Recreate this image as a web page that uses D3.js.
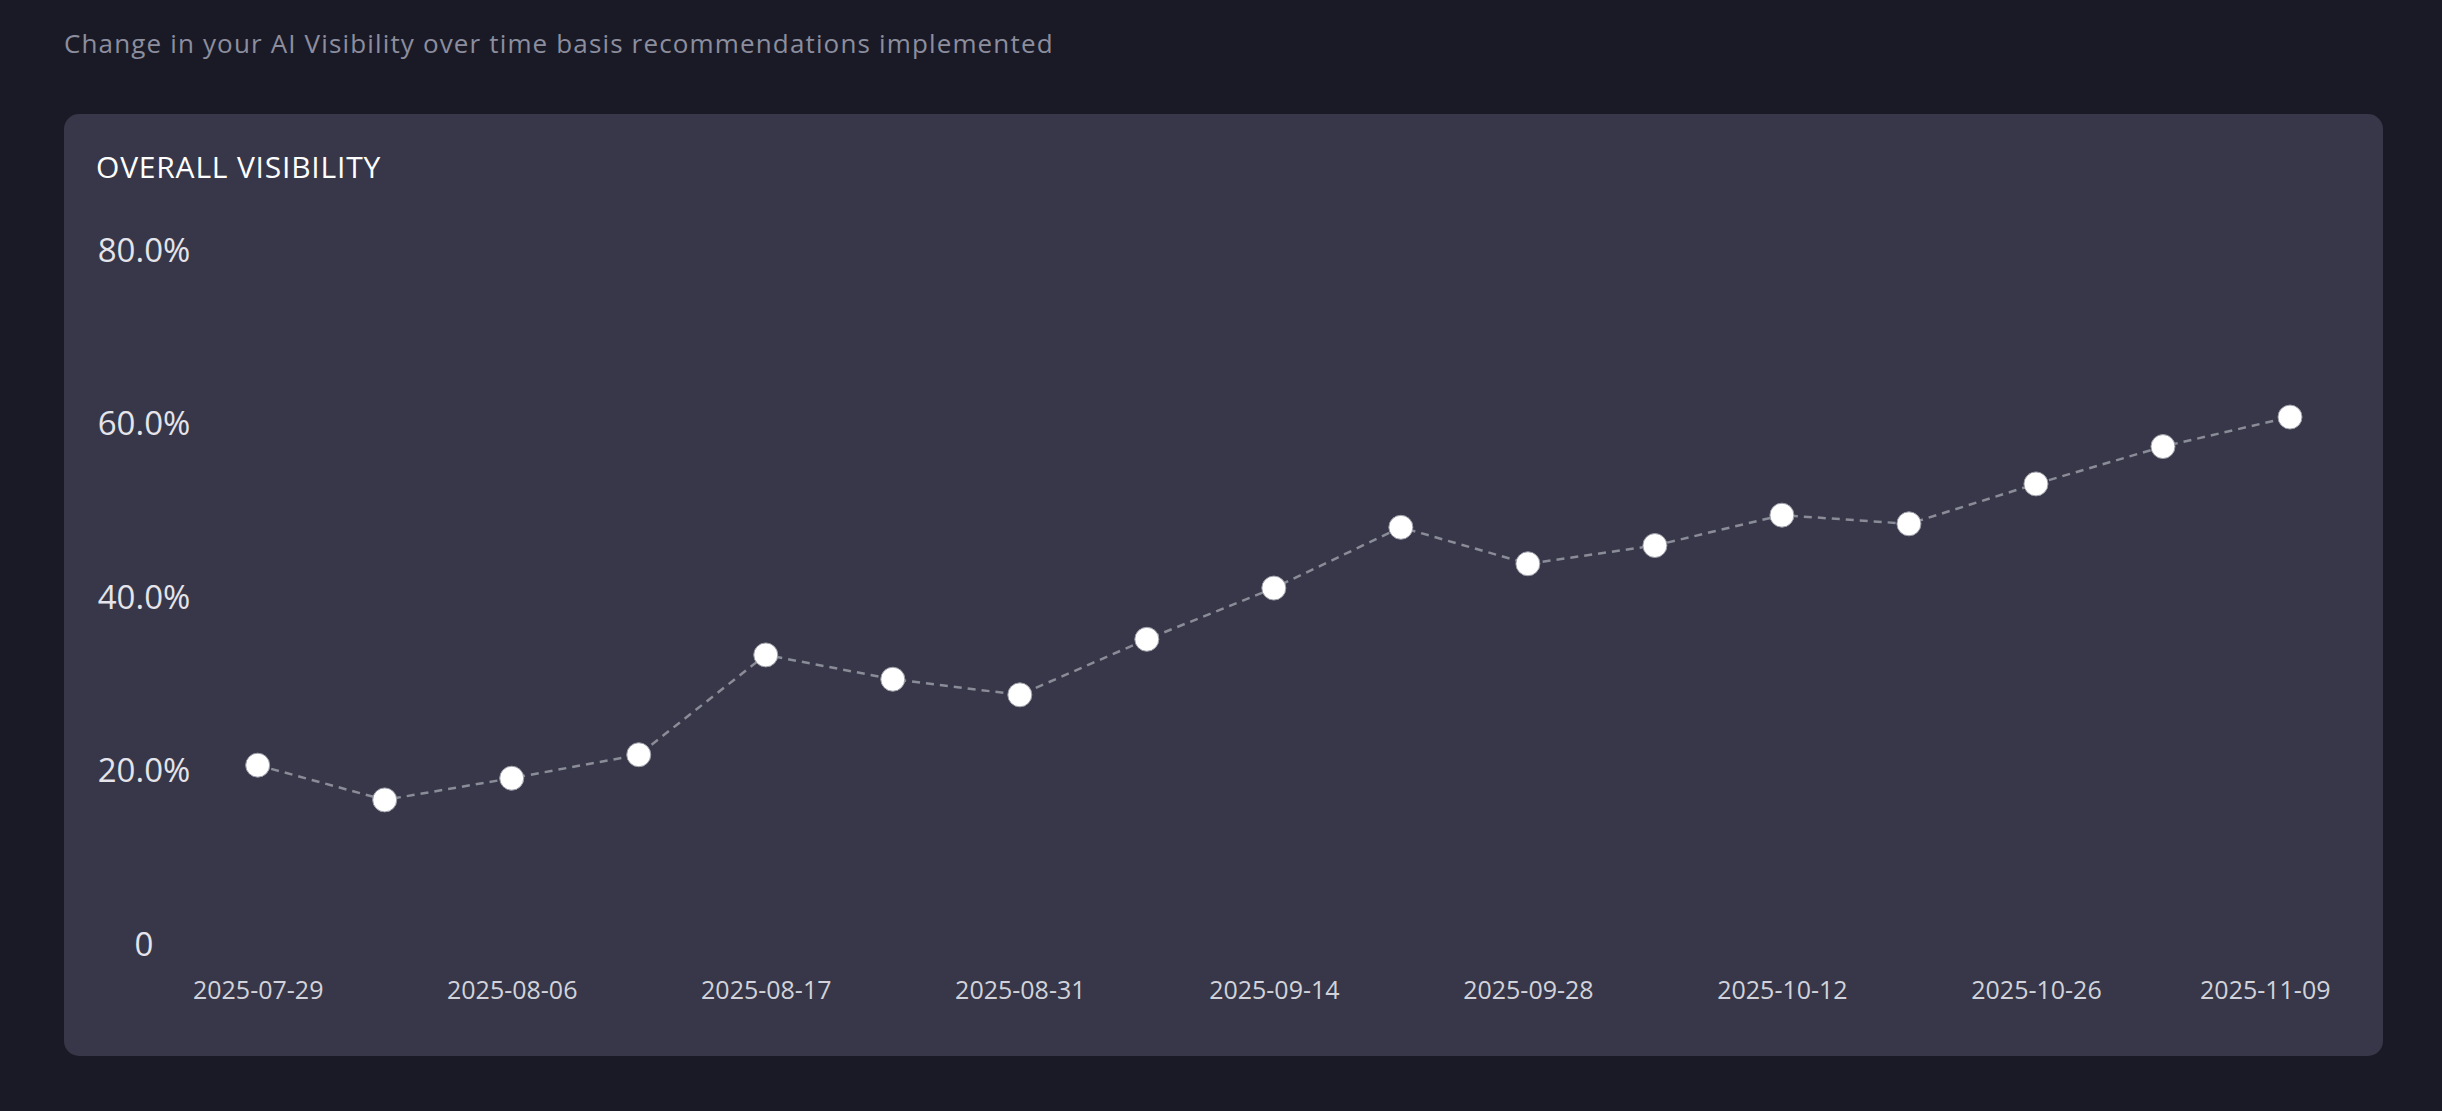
<!DOCTYPE html>
<html>
<head>
<meta charset="utf-8">
<script src="https://cdn.jsdelivr.net/npm/d3@7"></script>
<style>
  html, body { margin: 0; padding: 0; background: #1a1a27; }
  svg { display: block; }
  text { font-family: "Open Sans", "DejaVu Sans", sans-serif; }
</style>
</head>
<body>
<svg id="chart" width="2442" height="1111"></svg>
<script>
// ---- data ----
const subtitle = "Change in your AI Visibility over time basis recommendations implemented";
const chartTitle = "OVERALL VISIBILITY";
const dates = [
  "2025-07-29", "2025-08-02", "2025-08-06", "2025-08-11", "2025-08-17",
  "2025-08-24", "2025-08-31", "2025-09-07", "2025-09-14", "2025-09-21",
  "2025-09-28", "2025-10-05", "2025-10-12", "2025-10-19", "2025-10-26",
  "2025-11-02", "2025-11-09"
];
const visibility = [20.6, 16.6, 19.1, 21.8, 33.3, 30.5, 28.7, 35.1, 41.0, 48.0, 43.8, 45.9, 49.4, 48.4, 53.0, 57.3, 60.7];
const yTicks = [0, 20, 40, 60, 80];
const xTickLabels = ["2025-07-29", "2025-08-06", "2025-08-17", "2025-08-31", "2025-09-14", "2025-09-28", "2025-10-12", "2025-10-26", "2025-11-09"];

// ---- layout ----
const W = 2442, H = 1111;
const card = { x: 64, y: 114, w: 2319, h: 942, r: 15 };
const plot = { left: 257.7, right: 2290, top: 249.5, bottom: 944 };

const svg = d3.select("#chart");
svg.append("rect").attr("width", W).attr("height", H).attr("fill", "#1a1a27");

svg.append("text")
  .attr("x", 64).attr("y", 53)
  .attr("fill", "#8c8e9e")
  .attr("font-size", 26)
  .attr("letter-spacing", 1.15)
  .text(subtitle);

svg.append("rect")
  .attr("x", card.x).attr("y", card.y)
  .attr("width", card.w).attr("height", card.h)
  .attr("rx", card.r).attr("ry", card.r)
  .attr("fill", "#373749");

svg.append("text")
  .attr("x", 96).attr("y", 178)
  .attr("fill", "#ffffff")
  .attr("font-size", 30)
  .attr("font-weight", 500)
  .attr("letter-spacing", 0.8)
  .text(chartTitle);

const x = d3.scalePoint().domain(dates).range([plot.left, plot.right]);
const y = d3.scaleLinear().domain([0, 80]).range([plot.bottom, plot.top]);

// y axis
const yAxis = d3.axisLeft(y)
  .tickValues(yTicks)
  .tickSize(0)
  .tickFormat(d => d === 0 ? "0" : d3.format(".1f")(d) + "%");
const gy = svg.append("g").attr("transform", "translate(144,0)").call(yAxis);
gy.select(".domain").remove();
gy.selectAll("text")
  .attr("x", 0).attr("dy", "0.35em")
  .attr("text-anchor", "middle")
  .attr("fill", "#e4e4ea")
  .attr("font-size", 33)
  .attr("font-family", "\"Open Sans\", sans-serif");

// x axis
const xAxis = d3.axisBottom(x)
  .tickValues(xTickLabels)
  .tickSize(0);
const gx = svg.append("g").attr("transform", "translate(0,990)").call(xAxis);
gx.select(".domain").remove();
gx.selectAll("text")
  .attr("y", 0).attr("dy", "0.35em")
  .attr("fill", "#d2d3da")
  .attr("font-size", 25)
  .attr("font-family", "\"Open Sans\", sans-serif");
// keep the last label inside the card like the original
gx.selectAll(".tick").filter(d => d === xTickLabels[xTickLabels.length - 1])
  .select("text").attr("text-anchor", "end").attr("x", 40);

// line
const line = d3.line()
  .x((d, i) => x(dates[i]))
  .y(d => y(d));
svg.append("path")
  .datum(visibility)
  .attr("d", line)
  .attr("fill", "none")
  .attr("stroke", "#8a8d98")
  .attr("stroke-width", 2.5)
  .attr("stroke-dasharray", "8,6");

// points
svg.append("g").selectAll("circle")
  .data(visibility)
  .join("circle")
  .attr("cx", (d, i) => x(dates[i]))
  .attr("cy", d => y(d))
  .attr("r", 12)
  .attr("fill", "#ffffff")
  .attr("stroke", "#9a9ca6")
  .attr("stroke-width", 1);
</script>
</body>
</html>
